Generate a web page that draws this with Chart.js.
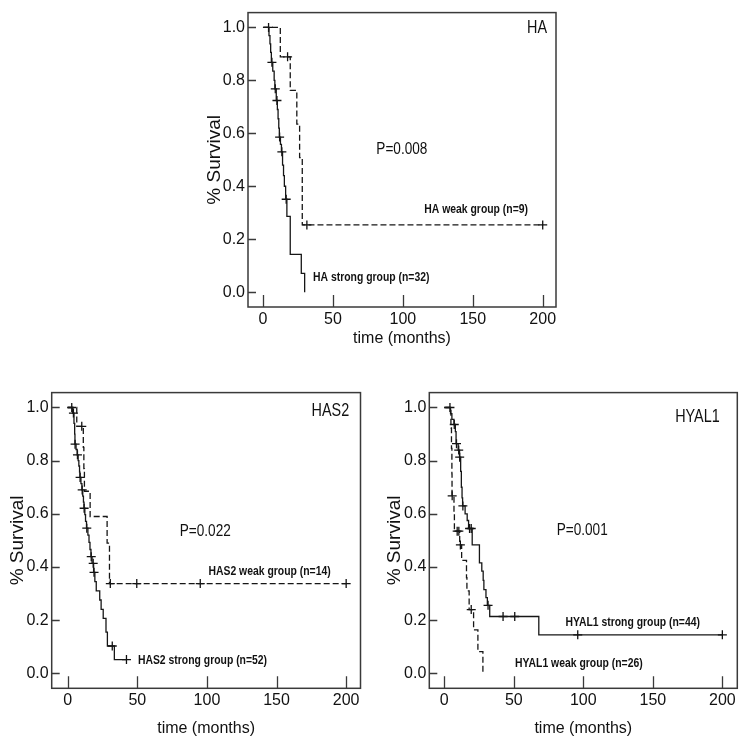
<!DOCTYPE html>
<html>
<head>
<meta charset="utf-8">
<script src="https://cdn.jsdelivr.net/npm/chart.js@4/dist/chart.umd.min.js"></script>
<style>
    body { margin: 0; background: #fff; width: 750px; height: 755px; position: relative; overflow: hidden; }
    canvas { position: absolute; }
</style>
</head>
<body>
<canvas id="chartHA" width="380" height="355" style="left:190px;top:0px"></canvas>
<canvas id="chartHAS2" width="375" height="360" style="left:0px;top:380px"></canvas>
<canvas id="chartHYAL1" width="375" height="360" style="left:375px;top:380px"></canvas>
<script>
// ---- HA ----
const haStrongTime = [0, 4.3, 5, 5.5, 6, 7, 8, 8.5, 9.5, 10.3, 10.8, 11.3, 11.7, 12.5, 13.2, 14, 14.7, 15.3, 16.2, 17.1, 19.5, 27.4, 29.8];
const haStrongSurv = [1, 0.969, 0.938, 0.906, 0.868, 0.835, 0.80, 0.768, 0.724, 0.69, 0.655, 0.62, 0.586, 0.558, 0.530, 0.48, 0.44, 0.40, 0.351, 0.286, 0.143, 0.071, 0];
const haStrongCensTime = [4, 6.4, 8.8, 10, 11.9, 13.5, 16.6];
const haStrongCensSurv = [1, 0.868, 0.768, 0.724, 0.586, 0.530, 0.351];
const haWeakTime = [0, 12.4, 19.5, 24.2, 26.2, 28.1, 200];
const haWeakSurv = [1, 0.889, 0.762, 0.635, 0.508, 0.254, 0.254];
const haWeakCensTime = [17.6, 31.4, 200];
const haWeakCensSurv = [0.889, 0.254, 0.254];

// ---- HAS2 ----
const has2StrongTime = [0, 3.5, 4.5, 5, 5.2, 6, 6.8, 7.5, 8, 8.5, 8.8, 9.5, 10.2, 10.8, 11.3, 11.7, 12.3, 12.8, 13.5, 14.5, 15.3, 16, 16.7, 17.5, 18.6, 19.5, 20.5, 23, 24, 25.5, 27.5, 28.5, 33.5, 42.2];
const has2StrongSurv = [1, 0.979, 0.94, 0.90, 0.862, 0.842, 0.822, 0.80, 0.78, 0.757, 0.737, 0.714, 0.69, 0.667, 0.644, 0.621, 0.597, 0.572, 0.546, 0.52, 0.493, 0.466, 0.439, 0.414, 0.38, 0.345, 0.31, 0.276, 0.241, 0.207, 0.155, 0.103, 0.052, 0.052];
const has2StrongCensTime = [2.9, 4.1, 5.3, 7.0, 8.9, 10.4, 11.8, 13.7, 16.9, 18.3, 18.9, 32, 42.2];
const has2StrongCensSurv = [1, 0.979, 0.862, 0.822, 0.737, 0.69, 0.621, 0.546, 0.439, 0.414, 0.38, 0.103, 0.052];
const has2WeakTime = [0, 6.5, 11.2, 11.6, 12, 16.1, 28.3, 30, 200];
const has2WeakSurv = [1, 0.929, 0.85, 0.77, 0.685, 0.59, 0.49, 0.338, 0.338];
const has2WeakCensTime = [10.1, 30.6, 49.6, 95.2, 200];
const has2WeakCensSurv = [0.929, 0.338, 0.338, 0.338, 0.338];

// ---- HYAL1 ----
const hyalStrongTime = [0, 4.5, 5.5, 7, 8, 8.5, 10, 11, 11.8, 12.3, 12.8, 13.2, 15, 16.5, 17.5, 20.1, 25.3, 27, 28, 28.5, 30, 31, 32.7, 68, 200];
const hyalStrongSurv = [1, 0.977, 0.955, 0.936, 0.909, 0.864, 0.84, 0.813, 0.76, 0.70, 0.66, 0.63, 0.60, 0.575, 0.545, 0.483, 0.416, 0.385, 0.35, 0.315, 0.285, 0.256, 0.214, 0.145, 0.145];
const hyalStrongCensTime = [4.1, 7.2, 8.8, 10.4, 11.1, 13.4, 18.2, 19.4, 31.5, 42.3, 50.7, 96, 200];
const hyalStrongCensSurv = [1, 0.936, 0.864, 0.84, 0.813, 0.63, 0.545, 0.545, 0.256, 0.214, 0.214, 0.145, 0.145];
const hyalWeakTime = [0, 4.8, 5.2, 5.5, 5.6, 7, 7.3, 11.1, 12.5, 16, 16.3, 17.9, 21.1, 24.2, 27.8];
const hyalWeakSurv = [1, 0.923, 0.846, 0.75, 0.668, 0.60, 0.535, 0.483, 0.425, 0.36, 0.31, 0.24, 0.164, 0.082, 0];
const hyalWeakCensTime = [5.7, 9.3, 10.5, 11.6, 19.4];
const hyalWeakCensSurv = [0.668, 0.535, 0.535, 0.483, 0.24];

const xTicks = [0, 50, 100, 150, 200];
const yTicks = [0, 0.2, 0.4, 0.6, 0.8, 1.0];

const SANS = "'Liberation Sans', Arial, sans-serif";
const INK = '#111';

function toPoints(xs, ys) {
    return xs.map((x, i) => ({ x: x, y: ys[i] }));
}

// frame round the plot, SPSS style ticks pointing inward, and the text notes
const spssFrame = {
    id: 'spssFrame',
    afterDraw(chart, args, opts) {
        const { ctx, chartArea: a, scales: { x, y } } = chart;
        ctx.save();
        ctx.strokeStyle = '#3a3a3a';
        ctx.lineWidth = 1.5;
        ctx.strokeRect(a.left, a.top, a.right - a.left, a.bottom - a.top);

        ctx.lineWidth = 1.3;
        ctx.beginPath();
        x.ticks.forEach(t => {
            const px = Math.round(x.getPixelForValue(t.value)) + 0.5;
            ctx.moveTo(px, a.bottom);
            ctx.lineTo(px, a.bottom - 12);
        });
        y.ticks.forEach(t => {
            const py = Math.round(y.getPixelForValue(t.value)) + 0.5;
            ctx.moveTo(a.left, py);
            ctx.lineTo(a.left + 8, py);
        });
        ctx.stroke();

        // the original uses a narrow face, so squeeze the notes sideways
        ctx.fillStyle = INK;
        ctx.textBaseline = 'middle';
        ctx.textAlign = 'center';
        (opts.notes || []).forEach(n => {
            ctx.save();
            ctx.font = n.font;
            ctx.translate(x.getPixelForValue(n.x), y.getPixelForValue(n.y));
            ctx.scale(0.8, 1);
            ctx.fillText(n.text, 0, 0);
            ctx.restore();
        });
        ctx.restore();
    }
};

function makeKmChart(canvasId, panel) {
    const ctx = document.getElementById(canvasId);
    const stepLine = (pts, dashed) => ({
        data: pts,
        showLine: true,
        stepped: 'before',
        borderColor: '#161616',
        borderWidth: 1.3,
        borderDash: dashed ? [6, 3] : [],
        pointRadius: 0,
        fill: false
    });
    const censor = (pts) => ({
        data: pts,
        showLine: false,
        pointStyle: 'cross',
        pointRadius: 4.5,
        pointBorderWidth: 1.3,
        pointBorderColor: '#111',
        borderColor: '#111'
    });

    return new Chart(ctx, {
        type: 'scatter',
        data: {
            datasets: [
                stepLine(panel.solid, false),
                stepLine(panel.dashed, true),
                censor(panel.solidCens),
                censor(panel.dashedCens)
            ]
        },
        options: {
            responsive: false,
            animation: false,
            layout: { padding: panel.padding },
            plugins: {
                legend: { display: false },
                tooltip: { enabled: false },
                spssFrame: { notes: panel.notes }
            },
            scales: {
                x: {
                    type: 'linear',
                    min: panel.xMin,
                    max: panel.xMax,
                    grid: { display: false, drawTicks: false },
                    border: { display: false },
                    afterBuildTicks: (scale) => { scale.ticks = xTicks.map(v => ({ value: v })); },
                    afterFit: (scale) => { scale.height = panel.xAxisHeight; },
                    ticks: {
                        padding: 3,
                        color: INK,
                        font: { family: SANS, size: 16 }
                    },
                    title: {
                        display: true,
                        text: 'time (months)',
                        color: INK,
                        font: { family: SANS, size: 16 },
                        padding: { top: 0, bottom: panel.xTitlePad }
                    }
                },
                y: {
                    type: 'linear',
                    min: -0.056,
                    max: 1.056,
                    grid: { display: false, drawTicks: false },
                    border: { display: false },
                    afterBuildTicks: (scale) => { scale.ticks = yTicks.map(v => ({ value: v })); },
                    afterFit: (scale) => { scale.width = panel.yAxisWidth; },
                    ticks: {
                        padding: 3,
                        color: INK,
                        font: { family: SANS, size: 16 },
                        callback: (v) => Number(v).toFixed(1)
                    },
                    title: {
                        display: true,
                        text: '% Survival',
                        color: INK,
                        font: { family: SANS, size: 19 },
                        padding: { top: panel.yTitlePad, bottom: 0 }
                    }
                }
            }
        },
        plugins: [spssFrame]
    });
}

const noteBig = "18px " + SANS;
const noteP = "17px " + SANS;
const noteSmall = "bold 13px " + SANS;

makeKmChart('chartHA', {
    solid: toPoints(haStrongTime, haStrongSurv),
    dashed: toPoints(haWeakTime, haWeakSurv),
    solidCens: toPoints(haStrongCensTime, haStrongCensSurv),
    dashedCens: toPoints(haWeakCensTime, haWeakCensSurv),
    xMin: -10.7, xMax: 209.5,
    padding: { left: 0, top: 12, right: 14, bottom: 0 },
    yAxisWidth: 58, xAxisHeight: 48,
    yTitlePad: 13.5, xTitlePad: 7,
    notes: [
        { text: 'HA', x: 196, y: 0.998, font: noteBig },
        { text: 'P=0.008', x: 99.3, y: 0.540, font: noteP },
        { text: 'HA weak group (n=9)', x: 152.4, y: 0.311, font: noteSmall },
        { text: 'HA strong group (n=32)', x: 77.4, y: 0.055, font: noteSmall }
    ]
});

makeKmChart('chartHAS2', {
    solid: toPoints(has2StrongTime, has2StrongSurv),
    dashed: toPoints(has2WeakTime, has2WeakSurv),
    solidCens: toPoints(has2StrongCensTime, has2StrongCensSurv),
    dashedCens: toPoints(has2WeakCensTime, has2WeakCensSurv),
    xMin: -11.5, xMax: 210.3,
    padding: { left: 0, top: 12.5, right: 14.5, bottom: 0 },
    yAxisWidth: 51.7, xAxisHeight: 51.7,
    yTitlePad: 6.6, xTitlePad: 2,
    notes: [
        { text: 'HAS2', x: 188.7, y: 0.985, font: noteBig },
        { text: 'P=0.022', x: 98.8, y: 0.536, font: noteP },
        { text: 'HAS2 weak group (n=14)', x: 145, y: 0.383, font: noteSmall },
        { text: 'HAS2 strong group (n=52)', x: 96.8, y: 0.050, font: noteSmall }
    ]
});

makeKmChart('chartHYAL1', {
    solid: toPoints(hyalStrongTime, hyalStrongSurv),
    dashed: toPoints(hyalWeakTime, hyalWeakSurv),
    solidCens: toPoints(hyalStrongCensTime, hyalStrongCensSurv),
    dashedCens: toPoints(hyalWeakCensTime, hyalWeakCensSurv),
    xMin: -10.75, xMax: 210.75,
    padding: { left: 0, top: 12.5, right: 12.7, bottom: 0 },
    yAxisWidth: 54.3, xAxisHeight: 51.7,
    yTitlePad: 8.6, xTitlePad: 2,
    notes: [
        { text: 'HYAL1', x: 182.1, y: 0.965, font: noteBig },
        { text: 'P=0.001', x: 99.2, y: 0.538, font: noteP },
        { text: 'HYAL1 strong group (n=44)', x: 135.5, y: 0.191, font: noteSmall },
        { text: 'HYAL1 weak group (n=26)', x: 96.8, y: 0.038, font: noteSmall }
    ]
});
</script>
</body>
</html>
